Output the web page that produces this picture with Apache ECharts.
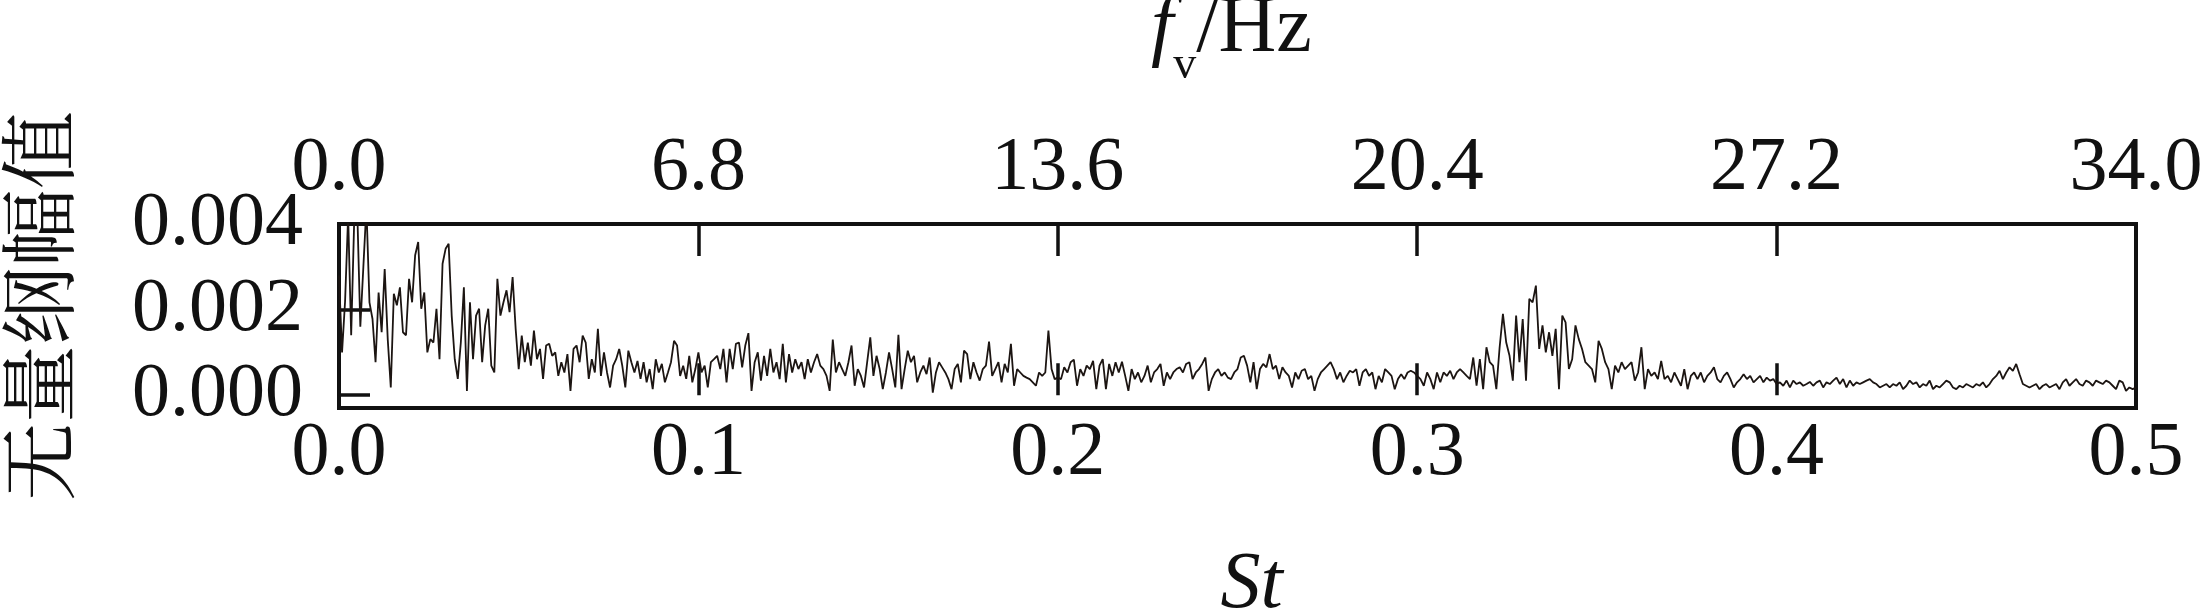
<!DOCTYPE html>
<html><head><meta charset="utf-8">
<script src="https://cdn.jsdelivr.net/npm/echarts@6/dist/echarts.min.js"></script>
<style>html,body{margin:0;padding:0;background:#fff}#c{width:2209px;height:613px}</style>
</head><body><div id="c"></div>
<script>
// tick labels
const stTicks = [0.0, 0.1, 0.2, 0.3, 0.4, 0.5];
const fvTicks = [0.0, 6.8, 13.6, 20.4, 27.2, 34.0];
const ampLabelTicks = [0.000, 0.002, 0.004];
const ampTickMarks = [0.000, 0.002];
// each segment covers 0.1 in St, starting at segStart
const segStart = [0.0, 0.1, 0.2, 0.3, 0.4];
const seg1 = [28e-4,10e-4,22e-4,42e-4,14e-4,41e-4,43e-4,16e-4,30e-4,44e-4,
21.7e-4,17.8e-4,7.7e-4,24e-4,14.7e-4,29.5e-4,13.1e-4,1.8e-4,23.7e-4,21e-4,
25.2e-4,14.7e-4,14e-4,27.2e-4,21.7e-4,32.7e-4,35.8e-4,20.2e-4,24e-4,10e-4,
13.1e-4,12.3e-4,20.2e-4,8.4e-4,30.7e-4,34.2e-4,35.4e-4,18.6e-4,8.4e-4,3.8e-4,
12.3e-4,25.2e-4,1e-4,21.7e-4,8.4e-4,18.6e-4,20.2e-4,7.7e-4,16.3e-4,20.2e-4,
6.9e-4,5.3e-4,27.2e-4,18.6e-4,21.7e-4,24.5e-4,19.4e-4,27.6e-4,15.5e-4,6.1e-4,
13.9e-4,7.7e-4,12.3e-4,6.9e-4,15.1e-4,8.4e-4,10.8e-4,3.8e-4,11.6e-4,12e-4,
9.2e-4,10e-4,4.5e-4,7.7e-4,5.3e-4,9.6e-4,1e-4,10.8e-4,11.6e-4,7.7e-4,
13.9e-4,12.3e-4,3.8e-4,8.4e-4,5.3e-4,15.5e-4,4.5e-4,10e-4,5.3e-4,1.8e-4,
6.9e-4,8.4e-4,10.8e-4,6.9e-4,1.8e-4,10.4e-4,7.7e-4,5.3e-4,8e-4,3.8e-4,
7.7e-4,3e-4,6.1e-4,1.4e-4,8.4e-4,5.3e-4,7.3e-4,3e-4,5.3e-4,7.7e-4,
12.7e-4,11.6e-4,4.5e-4,6.9e-4,3.8e-4,9.2e-4,3e-4,6.1e-4];
const seg2 = [10e-4,5.3e-4,6.9e-4,1.8e-4,7.7e-4,8.4e-4,9.2e-4,6.1e-4,10.8e-4,3e-4,
10.8e-4,6.1e-4,12e-4,12.3e-4,6.5e-4,11.6e-4,14.5e-4,1e-4,7.7e-4,10e-4,
3.4e-4,9.2e-4,4.5e-4,10.8e-4,5.3e-4,7.7e-4,3.75e-4,12e-4,3e-4,9.6e-4,
5.3e-4,8.4e-4,6.1e-4,7.7e-4,3.75e-4,8.4e-4,5.3e-4,7.7e-4,9.6e-4,6.9e-4,
6.1e-4,4.5e-4,1e-4,13e-4,5.3e-4,7.7e-4,6.1e-4,4.5e-4,7.7e-4,11.6e-4,
2.2e-4,6.1e-4,4.5e-4,1.8e-4,7.7e-4,13.5e-4,4.5e-4,9.2e-4,6.1e-4,1.4e-4,
5.3e-4,10e-4,6.1e-4,1.8e-4,14.1e-4,1.4e-4,6.1e-4,10.4e-4,7.7e-4,9.2e-4,
3e-4,5.3e-4,6.9e-4,4.9e-4,8.8e-4,0.6e-4,5.3e-4,7.7e-4,6.5e-4,5.3e-4,
3.75e-4,1.4e-4,6.1e-4,7.3e-4,3e-4,10.4e-4,9.6e-4,3.75e-4,7.7e-4,5.3e-4,
3.4e-4,6.1e-4,6.9e-4,12.5e-4,4.5e-4,6.1e-4,7.7e-4,3e-4,7.3e-4,5.3e-4,
12e-4,2.2e-4,6.1e-4,5.3e-4,4.5e-4,4.1e-4,3.75e-4,3e-4,2.2e-4,5.3e-4,
4.5e-4,5.3e-4,15.1e-4,6.1e-4,3.75e-4];
const seg3 = [4.1e-4,3.75e-4,6.5e-4,5.3e-4,7.7e-4,8.3e-4,2.2e-4,6.1e-4,4.5e-4,6.9e-4,
6.1e-4,8e-4,1.4e-4,6.9e-4,8.4e-4,1.4e-4,7.3e-4,4.5e-4,7.7e-4,5.3e-4,
7.8e-4,4.5e-4,1e-4,6.1e-4,3.75e-4,5.3e-4,3e-4,4.5e-4,6.9e-4,3e-4,
5.3e-4,6.1e-4,7.3e-4,2.2e-4,5.3e-4,3.75e-4,5.3e-4,6.1e-4,6.5e-4,5.3e-4,
7.3e-4,7.7e-4,3.75e-4,5.3e-4,6.1e-4,7.3e-4,8.8e-4,1e-4,3.75e-4,5.3e-4,
6.1e-4,4.5e-4,5.3e-4,4.1e-4,3.75e-4,5.3e-4,6.1e-4,8.8e-4,9.2e-4,6.9e-4,
3e-4,7.7e-4,1.4e-4,6.1e-4,7.3e-4,6.5e-4,9.6e-4,6.1e-4,6.9e-4,3.75e-4,
6.5e-4,5.3e-4,4.5e-4,1.8e-4,5.3e-4,3.75e-4,5.7e-4,6.1e-4,3.75e-4,4.5e-4,
1e-4,3.75e-4,5.3e-4,6.1e-4,6.9e-4,7.7e-4,6.1e-4,3.75e-4,5.3e-4,3e-4,
4.5e-4,5.7e-4,5.3e-4,6.1e-4,2.2e-4,5.3e-4,6.1e-4,4.5e-4,5.3e-4,1.4e-4,
4.5e-4,3e-4,6.1e-4,5.3e-4,4.5e-4,1.4e-4,3.75e-4,4.9e-4,3.75e-4,5.3e-4,
5.7e-4,5.3e-4];
const seg4 = [4.5e-4,3.75e-4,2.2e-4,5.3e-4,3.75e-4,1.4e-4,5.3e-4,3e-4,5.3e-4,4.5e-4,
5.7e-4,3.75e-4,5.3e-4,6.1e-4,5.3e-4,4.5e-4,3.75e-4,
8.8e-4,2.2e-4,8.4e-4,1.4e-4,11.2e-4,7.7e-4,6.9e-4,1.4e-4,11.2e-4,19e-4,
12.3e-4,9.2e-4,3.4e-4,18.6e-4,7.7e-4,17.8e-4,3.4e-4,22.5e-4,21.7e-4,25.6e-4,
10.8e-4,16.3e-4,10e-4,14.7e-4,9.2e-4,15.5e-4,1.4e-4,18.6e-4,17e-4,6.1e-4,
8.4e-4,16.3e-4,13.1e-4,10.8e-4,7.7e-4,6.9e-4,6.1e-4,3e-4,12.7e-4,
10.8e-4,7.7e-4,6.1e-4,1.4e-4,6.9e-4,5.3e-4,7.7e-4,6.1e-4,6.9e-4,7.7e-4,
3.4e-4,5.3e-4,11.2e-4,1.4e-4,6.1e-4,4.5e-4,5.3e-4,3.75e-4,8e-4,3.75e-4,
4.5e-4,3e-4,5.3e-4,3.75e-4,2.2e-4,6.1e-4,1.4e-4,4.5e-4,5.3e-4,3.75e-4,
5.3e-4,3e-4,4.5e-4,5.3e-4,6.5e-4,3.75e-4,3e-4,4.5e-4,5.3e-4,3.75e-4,
1.8e-4,3e-4,3.75e-4,4.9e-4,3.75e-4,4.5e-4,3e-4,3.75e-4,4.5e-4,3e-4,
4.1e-4,3.4e-4,3.75e-4];
const seg5 = [2.6e-4,3e-4,2.2e-4,3.4e-4,1.8e-4,3.4e-4,2.6e-4,3e-4,2.2e-4,2.6e-4,
3.1e-4,2.2e-4,3e-4,3.4e-4,1.8e-4,3e-4,2.6e-4,3.4e-4,4.1e-4,2.6e-4,
3.75e-4,1.8e-4,3.4e-4,2.2e-4,3e-4,2.6e-4,3e-4,3.4e-4,3.75e-4,3e-4,
2.6e-4,1.8e-4,2.2e-4,2.6e-4,1.8e-4,2.6e-4,2.2e-4,3e-4,1.4e-4,2.2e-4,
3.4e-4,2.6e-4,3e-4,1.8e-4,2.6e-4,2.2e-4,3.4e-4,1.4e-4,2.2e-4,1.8e-4,
2.6e-4,3.4e-4,3e-4,1.8e-4,1.4e-4,2.2e-4,1.8e-4,2.6e-4,2.2e-4,1.8e-4,
2.6e-4,2.2e-4,3e-4,1.8e-4,2.6e-4,3.75e-4,4.5e-4,5.7e-4,3.75e-4,5.3e-4,
6.5e-4,5.7e-4,7.3e-4,4.9e-4,2.6e-4,2.2e-4,1.8e-4,2.2e-4,2.6e-4,1.4e-4,
2.2e-4,2.6e-4,1.8e-4,2.2e-4,2.6e-4,1.4e-4,3e-4,3.75e-4,2.2e-4,3e-4,
3.75e-4,2.6e-4,2.2e-4,3.4e-4,3e-4,2.2e-4,3.4e-4,3e-4,2.6e-4,3.4e-4,
3e-4,2.2e-4,1.4e-4,3.4e-4,3e-4,1e-4,1.8e-4,1.4e-4,1.8e-4];

const segs = [seg1, seg2, seg3, seg4, seg5];
const lineData = [];
segs.forEach((s, k) => {
  const last = k === segs.length - 1;
  const n = last ? s.length - 1 : s.length;
  s.forEach((v, i) => lineData.push([segStart[k] + i * 0.1 / n, v]));
});

const serif = '"Liberation Serif", "Times New Roman", serif';
const ink = '#111';
const tickStyle = { color: ink, width: 3.5 };
const labelSize = 76;

const chart = echarts.init(document.getElementById('c'), null, { renderer: 'canvas' });
chart.setOption({
  animation: false,
  backgroundColor: '#fff',
  grid: { left: 339, right: 73, top: 224, bottom: 205, containLabel: false, outerBoundsMode: 'none',
    show: true, borderColor: ink, borderWidth: 4, backgroundColor: 'transparent' },
  xAxis: [
    {
      type: 'value', position: 'bottom', min: stTicks[0], max: stTicks[stTicks.length - 1], interval: 0.1,
      name: 'St', nameLocation: 'middle', nameGap: 138,
      nameTextStyle: { fontFamily: serif, fontStyle: 'italic', fontSize: 80, color: ink, padding: [0, 0, 0, 28] },
      axisLine: { show: false },
      axisTick: { show: true, inside: true, length: 32, lineStyle: tickStyle },
      axisLabel: { fontFamily: serif, fontSize: labelSize, color: ink, margin: 8, showMinLabel: true, showMaxLabel: true,
        hideOverlap: false, formatter: v => v.toFixed(1) },
      splitLine: { show: false }
    },
    {
      type: 'value', position: 'top', min: fvTicks[0], max: fvTicks[fvTicks.length - 1], interval: 6.8,
      name: '{i|f}{s|v}{n|/Hz}{z| }', nameLocation: 'middle', nameGap: 135,
      nameTextStyle: {
        color: ink, padding: [0, 10, 0, 0],
        rich: {
          i: { fontFamily: serif, fontStyle: 'italic', fontSize: 80, lineHeight: 84, verticalAlign: 'top', color: ink },
          s: { fontFamily: serif, fontSize: 46, lineHeight: 16, verticalAlign: 'bottom', color: ink },
          n: { fontFamily: serif, fontSize: 80, lineHeight: 84, verticalAlign: 'top', color: ink },
          z: { fontSize: 8, lineHeight: 99, color: ink }
        }
      },
      axisLine: { show: false },
      axisTick: { show: true, inside: true, length: 32, lineStyle: tickStyle },
      axisLabel: { fontFamily: serif, fontSize: labelSize, color: ink, margin: 17, showMinLabel: true, showMaxLabel: true,
        hideOverlap: false, formatter: v => v.toFixed(1) },
      splitLine: { show: false }
    }
  ],
  yAxis: {
    type: 'value', min: -0.0003, max: ampLabelTicks[ampLabelTicks.length - 1],
    name: '无量纲幅值', nameLocation: 'middle', nameGap: 262,
    nameTextStyle: { fontFamily: '"Noto Serif CJK SC", "Noto Sans CJK SC", serif', fontSize: 78, color: ink, padding: [0, 0, 0, 20] },
    axisLine: { show: false },
    axisTick: { show: true, inside: true, length: 31, lineStyle: tickStyle, customValues: ampTickMarks },
    axisLabel: { fontFamily: serif, fontSize: labelSize, lineHeight: 60, color: ink, margin: 36, customValues: ampLabelTicks,
      showMinLabel: true, showMaxLabel: true, hideOverlap: false, formatter: v => v.toFixed(3) },
    splitLine: { show: false }
  },
  series: [{
    type: 'line', xAxisIndex: 0, yAxisIndex: 0, data: lineData,
    showSymbol: false, symbol: 'none', clip: true,
    lineStyle: { color: '#1c1512', width: 1.8 }
  }]
});
</script>
</body></html>
